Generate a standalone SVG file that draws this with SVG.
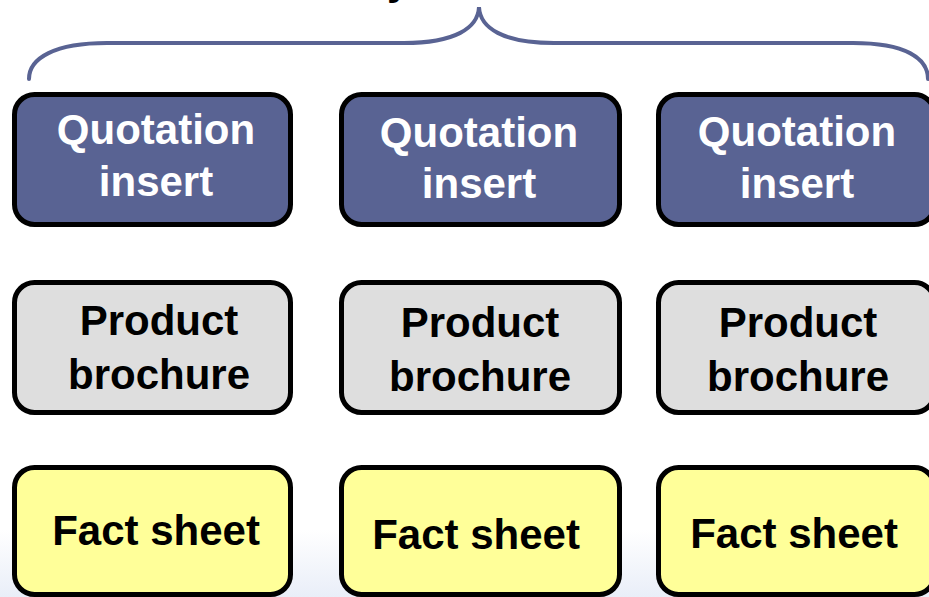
<svg xmlns="http://www.w3.org/2000/svg" width="929" height="597" viewBox="0 0 929 597">
  <defs>
    <linearGradient id="floor" x1="0" y1="0" x2="0" y2="1">
      <stop offset="0" stop-color="#ffffff"/>
      <stop offset="1" stop-color="#e9eef8"/>
    </linearGradient>
    <style>
      .box { stroke: #000; stroke-width: 5; }
      .quote { fill: #596393; }
      .brochure { fill: #dedede; }
      .fact { fill: #ffff99; }
      .label { font-family: "Liberation Sans", Arial, sans-serif; font-weight: bold; font-size: 42px; text-anchor: middle; }
      .light { fill: #ffffff; }
      .dark { fill: #000000; }
      .brace { fill: none; stroke: #596393; stroke-width: 4; stroke-linecap: round; }
    </style>
  </defs>

  <!-- background -->
  <rect x="0" y="0" width="929" height="597" fill="#ffffff"/>
  <rect x="0" y="530" width="929" height="67" fill="url(#floor)"/>

  <!-- heading fragment above the brace -->
  <text x="387" y="-6" class="label dark" style="text-anchor:start">y</text>

  <!-- connectors: grouping brace -->
  <g id="connectors">
    <path class="brace" d="M29 79 C29 58 55 43 107 43 L404 43 C455 43 478 28 479 7 C480 28 503 43 554 43 L853 43 C905 43 928 58 928 79"/>
  </g>

  <!-- row 1: quotation inserts -->
  <g id="quote1">
    <rect class="box quote" x="14.5" y="94.5" width="276" height="130" rx="20"/>
    <text class="label light" x="156" y="144">Quotation</text>
    <text class="label light" x="156" y="196">insert</text>
  </g>
  <g id="quote2">
    <rect class="box quote" x="341.5" y="94.5" width="278" height="130" rx="20"/>
    <text class="label light" x="479" y="147">Quotation</text>
    <text class="label light" x="479" y="198">insert</text>
  </g>
  <g id="quote3">
    <rect class="box quote" x="658.5" y="94.5" width="276" height="130" rx="20"/>
    <text class="label light" x="797" y="146">Quotation</text>
    <text class="label light" x="797" y="198">insert</text>
  </g>

  <!-- row 2: product brochures -->
  <g id="brochure1">
    <rect class="box brochure" x="14.5" y="282.5" width="276" height="130" rx="20"/>
    <text class="label dark" x="159" y="335">Product</text>
    <text class="label dark" x="159" y="389">brochure</text>
  </g>
  <g id="brochure2">
    <rect class="box brochure" x="341.5" y="282.5" width="278" height="130" rx="20"/>
    <text class="label dark" x="480" y="337">Product</text>
    <text class="label dark" x="480" y="391">brochure</text>
  </g>
  <g id="brochure3">
    <rect class="box brochure" x="658.5" y="282.5" width="276" height="130" rx="20"/>
    <text class="label dark" x="798" y="337">Product</text>
    <text class="label dark" x="798" y="391">brochure</text>
  </g>

  <!-- row 3: fact sheets -->
  <g id="fact1">
    <rect class="box fact" x="14.5" y="467.5" width="276" height="127" rx="20"/>
    <text class="label dark" x="156" y="545">Fact sheet</text>
  </g>
  <g id="fact2">
    <rect class="box fact" x="341.5" y="467.5" width="278" height="127" rx="20"/>
    <text class="label dark" x="476" y="549">Fact sheet</text>
  </g>
  <g id="fact3">
    <rect class="box fact" x="658.5" y="467.5" width="276" height="127" rx="20"/>
    <text class="label dark" x="794" y="548">Fact sheet</text>
  </g>
</svg>
